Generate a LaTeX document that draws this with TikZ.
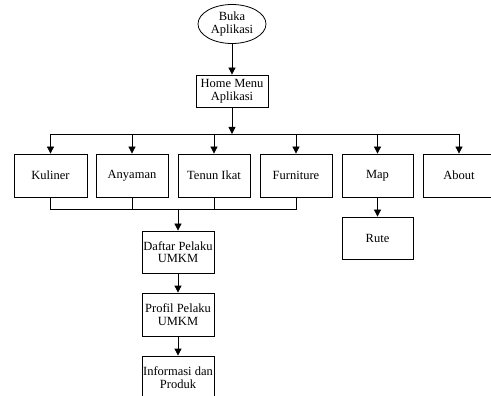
\documentclass[tikz,border=0pt]{standalone}
\usepackage{fontspec}
\setmainfont{Liberation Serif}
\usetikzlibrary{arrows.meta,shapes.geometric}
\tikzset{
  box/.style={draw, line width=0.8pt, rectangle, align=center, inner sep=1pt, minimum width=72pt, minimum height=43pt, font=\fontsize{12.5}{12.5}\selectfont},
  oval/.style={draw, line width=0.8pt, ellipse, align=center, inner sep=0pt, minimum width=68pt, minimum height=39pt, font=\fontsize{12.5}{12.5}\selectfont},
  arr/.style={-{Triangle[width=7pt,length=7pt]}, line width=0.8pt},
  ln/.style={line width=0.8pt}
}
\begin{document}
\begin{tikzpicture}[x=1pt,y=-1pt]
\useasboundingbox (0,0) rectangle (491,396);
\clip (0,0) rectangle (491,396);
\node[oval] (buka) at (232,24) {Buka\\Aplikasi};
\node[box, minimum height=32pt] (home) at (232,91) {Home Menu\\Aplikasi};
\node[box, minimum width=73pt] (kuliner) at (50.5,175.5) {Kuliner};
\node[box] (anyaman) at (132,175.5) {Anyaman};
\node[box] (tenun) at (214,175.5) {Tenun Ikat};
\node[box] (furniture) at (296,175.5) {Furniture};
\node[box, minimum width=71pt] (map) at (377.5,175.5) {Map};
\node[box] (about) at (459,175.5) {About};
\node[box, minimum width=71pt, minimum height=42pt] (rute) at (377.5,238) {Rute};
\node[box, minimum height=42pt] (daftar) at (178,252) {Daftar Pelaku\\UMKM};
\node[box] (profil) at (178,314.5) {Profil Pelaku\\UMKM};
\node[box] (info) at (178,377.5) {Informasi dan\\Produk};
\coordinate (bus) at (232,134);
\coordinate (bot) at (178,209);
\draw[arr] (buka) -- (home);
\draw[arr] (home) -- (bus);
\draw[ln] (kuliner.north |- bus) -- (about.north |- bus);
\foreach \n in {kuliner,anyaman,tenun,furniture,map,about}
  \draw[arr] (\n.north |- bus) -- (\n.north);
\draw[ln] (kuliner.south) -- (kuliner.south |- bot) -- (furniture.south |- bot) -- (furniture.south);
\draw[ln] (anyaman.south) -- (anyaman.south |- bot);
\draw[ln] (tenun.south) -- (tenun.south |- bot);
\draw[arr] (bot) -- (daftar.north);
\draw[arr] (map) -- (rute);
\draw[arr] (daftar) -- (profil);
\draw[arr] (profil) -- (info);
\end{tikzpicture}
\end{document}
